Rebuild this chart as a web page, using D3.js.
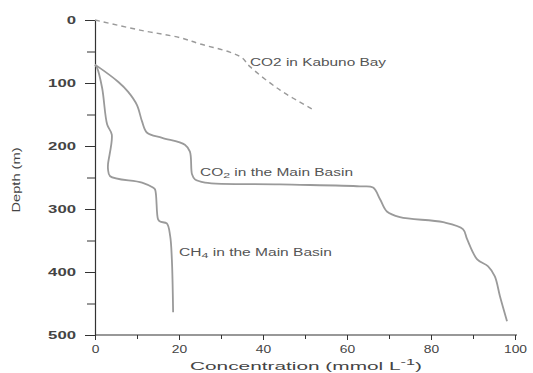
<!DOCTYPE html>
<html>
<head>
<meta charset="utf-8">
<script src="https://cdn.jsdelivr.net/npm/d3@7"></script>
<style>
  body { margin: 0; background: #fff; }
  svg { display: block; font-family: "Liberation Sans", Arial, sans-serif; }
</style>
</head>
<body>
<svg id="chart" width="533" height="373"></svg>
<script>
// Data: [concentration (mmol/L), depth (m)]
const co2Kabuno = [
  [0, 0], [10.7, 16], [20.2, 28], [25, 38], [32.1, 51], [35, 60],
  [36.9, 74], [44, 111], [51.9, 142]
];
const co2Main = [
  [0, 71], [0.7, 74], [5.5, 98], [7.9, 114], [10, 135], [11.2, 161],
  [12.4, 179], [16, 187], [21.4, 198], [22.6, 209], [23.1, 245],
  [23.8, 253], [26.2, 258], [44, 261], [63.1, 264], [66.2, 266],
  [67.9, 285], [69.5, 304], [72.6, 313], [82.9, 321], [87.6, 332],
  [88.6, 348], [91, 380], [93.6, 391], [95.2, 407], [96.4, 438], [98.1, 478]
];
const ch4Main = [
  [0, 71], [0.5, 76], [1.7, 108], [2.9, 166], [4, 182], [3.1, 229],
  [3.1, 237], [3.6, 248], [11.2, 258], [13.8, 266], [14.3, 269],
  [15, 316], [15.5, 320], [17.1, 323], [17.9, 343], [18.3, 380], [18.6, 464]
];
const xTicks = [0, 20, 40, 60, 80, 100];
const xMinor = [10, 30, 50, 70, 90];
const yTicks = [0, 100, 200, 300, 400, 500];
const yMinor = [50, 150, 250, 350, 450];

const svg = d3.select("#chart");
const x = d3.scaleLinear().domain([0, 100]).range([95, 515]);
const y = d3.scaleLinear().domain([0, 500]).range([20, 335]);

const axisColor = "#333";
const textColor = "#444";
const lineColor = "#9a9a9a";

// X axis
const gx = svg.append("g").attr("transform", `translate(0,${y(500)})`);
gx.call(d3.axisBottom(x).tickValues(xTicks).tickSize(5).tickSizeOuter(0).tickFormat(d3.format("d")));
gx.append("g").call(d3.axisBottom(x).tickValues(xMinor).tickSize(4).tickFormat(""))
  .select(".domain").remove();
gx.selectAll(".domain").attr("stroke", axisColor).attr("stroke-width", 1.2)
  .attr("d", `M${x(0)},0H${x(100) + 2}`);
gx.selectAll(".tick line").attr("stroke", axisColor).attr("stroke-width", 1);
gx.selectAll(".tick text").attr("fill", textColor).attr("font-size", 10.5)
  .attr("font-family", "Liberation Sans, Arial, sans-serif")
  .attr("y", 11)
  .each(function(d) {
    const s = String(d);
    d3.select(this).attr("textLength", s.length * 7.7).attr("lengthAdjust", "spacingAndGlyphs");
  });

// Y axis
const gy = svg.append("g").attr("transform", `translate(${x(0)},0)`);
gy.call(d3.axisLeft(y).tickValues(yTicks).tickSize(10).tickSizeOuter(0).tickFormat(d3.format("d")));
gy.append("g").call(d3.axisLeft(y).tickValues(yMinor).tickSize(8).tickFormat(""))
  .select(".domain").remove();
gy.selectAll(".domain").attr("stroke", axisColor).attr("stroke-width", 1.2);
gy.selectAll(".tick line").attr("stroke", axisColor).attr("stroke-width", 1);
gy.selectAll(".tick text").attr("fill", textColor).attr("font-size", 10.5)
  .attr("font-weight", "bold")
  .attr("font-family", "Liberation Sans, Arial, sans-serif")
  .attr("x", -19)
  .each(function(d) {
    const s = String(d);
    d3.select(this).attr("textLength", s.length * 9.3).attr("lengthAdjust", "spacingAndGlyphs");
  });

// Axis titles
const xt = svg.append("text")
  .attr("x", 306).attr("y", 370)
  .attr("text-anchor", "middle")
  .attr("font-size", 11.5).attr("fill", textColor)
  .attr("textLength", 232).attr("lengthAdjust", "spacingAndGlyphs");
xt.append("tspan").text("Concentration (mmol L");
xt.append("tspan").attr("dy", -5).attr("font-size", 9).text("-1");
xt.append("tspan").attr("dy", 5).text(")");

svg.append("text")
  .attr("transform", `translate(20,180) rotate(-90)`)
  .attr("text-anchor", "middle")
  .attr("font-size", 11.5).attr("fill", textColor)
  .attr("textLength", 65).attr("lengthAdjust", "spacingAndGlyphs")
  .text("Depth (m)");

// Lines
const line = d3.line().x(d => x(d[0])).y(d => y(d[1])).curve(d3.curveCatmullRom.alpha(0.5));

svg.append("path").datum(co2Kabuno)
  .attr("d", line).attr("fill", "none")
  .attr("stroke", lineColor).attr("stroke-width", 1.4)
  .attr("stroke-dasharray", "5,4");

svg.append("path").datum(co2Main)
  .attr("d", line).attr("fill", "none")
  .attr("stroke", lineColor).attr("stroke-width", 1.8)
  .attr("stroke-linejoin", "round");

svg.append("path").datum(ch4Main)
  .attr("d", line).attr("fill", "none")
  .attr("stroke", lineColor).attr("stroke-width", 1.8)
  .attr("stroke-linejoin", "round");

// Line labels
const labelColor = "#555";
svg.append("text")
  .attr("x", 250).attr("y", 66)
  .attr("font-size", 10).attr("fill", labelColor)
  .attr("textLength", 136).attr("lengthAdjust", "spacingAndGlyphs")
  .text("CO2 in Kabuno Bay");

const l2 = svg.append("text")
  .attr("x", 200).attr("y", 176)
  .attr("font-size", 10).attr("fill", labelColor)
  .attr("textLength", 153).attr("lengthAdjust", "spacingAndGlyphs");
l2.append("tspan").text("CO");
l2.append("tspan").attr("dy", 2).attr("font-size", 8).text("2");
l2.append("tspan").attr("dy", -2).text(" in the Main Basin");

const l3 = svg.append("text")
  .attr("x", 179).attr("y", 256)
  .attr("font-size", 10).attr("fill", labelColor)
  .attr("textLength", 153).attr("lengthAdjust", "spacingAndGlyphs");
l3.append("tspan").text("CH");
l3.append("tspan").attr("dy", 2).attr("font-size", 8).text("4");
l3.append("tspan").attr("dy", -2).text(" in the Main Basin");
</script>
</body>
</html>
